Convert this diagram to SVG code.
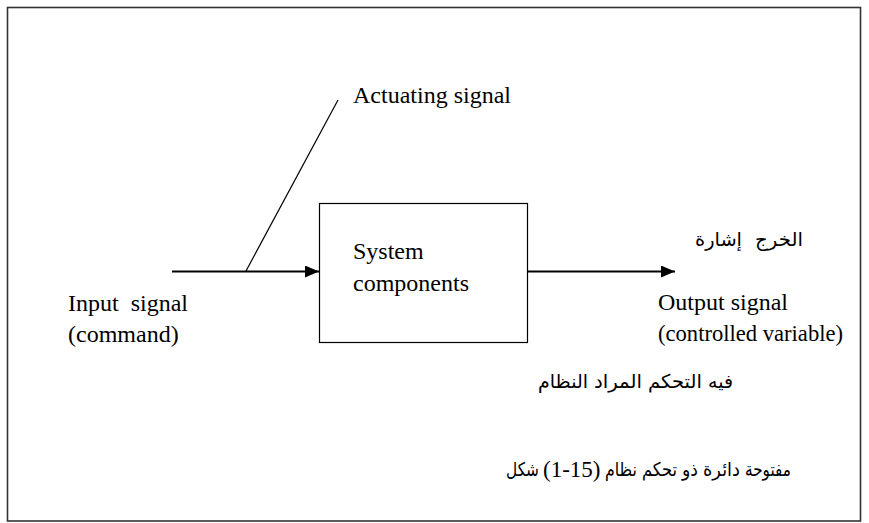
<svg xmlns="http://www.w3.org/2000/svg" width="869" height="523" viewBox="0 0 869 523">
  <style>
    .lat { font-family: "Liberation Serif", "Times New Roman", serif; font-size: 24px; fill: #000; }
    .ar { font-family: "DejaVu Sans", "Noto Sans", sans-serif; font-size: 19px; fill: #000; }
    .sig { stroke: #000; stroke-width: 2; fill: none; }
    .thin { stroke: #000; stroke-width: 1.2; fill: none; }
  </style>
  <defs>
    <marker id="head" markerUnits="userSpaceOnUse" markerWidth="14" markerHeight="12" refX="14" refY="6" orient="auto">
      <path d="M0,0 L14,6 L0,12 Z" fill="#000"/>
    </marker>
  </defs>

  <rect x="0" y="0" width="869" height="523" fill="#fff"/>
  <!-- outer frame -->
  <rect x="7.5" y="7.5" width="853" height="513.5" fill="none" stroke="#333" stroke-width="1.6"/>

  <!-- block -->
  <g id="system">
    <rect x="319.5" y="203.5" width="208" height="139" class="thin"/>
    <text class="lat" x="353" y="259">System</text>
    <text class="lat" x="353" y="291">components</text>
  </g>

  <g id="input">
    <text class="lat" x="68" y="311" xml:space="preserve">Input  signal</text>
    <text class="lat" x="68" y="342">(command)</text>
  </g>

  <g id="actuating">
    <text class="lat" x="353" y="103">Actuating signal</text>
  </g>

  <!-- Arabic words are set one by one, left to right -->
  <g id="output">
    <text class="ar" x="695" y="246" textLength="47" lengthAdjust="spacingAndGlyphs">إشارة</text>
    <text class="ar" x="755" y="246" textLength="48" lengthAdjust="spacingAndGlyphs">الخرج</text>
    <text class="lat" x="658" y="310">Output signal</text>
    <text class="lat" x="658" y="341" textLength="185" lengthAdjust="spacingAndGlyphs">(controlled variable)</text>
  </g>

  <g id="plant-label">
    <text class="ar" x="538" y="388" textLength="50" lengthAdjust="spacingAndGlyphs">النظام</text>
    <text class="ar" x="594" y="388" textLength="48" lengthAdjust="spacingAndGlyphs">المراد</text>
    <text class="ar" x="648" y="388" textLength="54" lengthAdjust="spacingAndGlyphs">التحكم</text>
    <text class="ar" x="708" y="388" textLength="25" lengthAdjust="spacingAndGlyphs">فيه</text>
  </g>

  <g id="caption">
    <text class="ar" x="506" y="476" textLength="33" lengthAdjust="spacingAndGlyphs">شكل</text>
    <text class="lat" x="543" y="477" style="font-size:23px">(1-15)</text>
    <text class="ar" x="605" y="476" textLength="32" lengthAdjust="spacingAndGlyphs">نظام</text>
    <text class="ar" x="642" y="476" textLength="35" lengthAdjust="spacingAndGlyphs">تحكم</text>
    <text class="ar" x="682" y="476" textLength="16" lengthAdjust="spacingAndGlyphs">ذو</text>
    <text class="ar" x="703" y="476" textLength="37" lengthAdjust="spacingAndGlyphs">دائرة</text>
    <text class="ar" x="745" y="476" textLength="46" lengthAdjust="spacingAndGlyphs">مفتوحة</text>
  </g>

  <!-- connectors -->
  <g id="connectors">
    <line x1="172" y1="271.5" x2="319" y2="271.5" class="sig" marker-end="url(#head)"/>
    <line x1="527.5" y1="271.5" x2="675" y2="271.5" class="sig" marker-end="url(#head)"/>
    <line x1="246" y1="271" x2="338" y2="100" class="thin"/>
  </g>
</svg>
